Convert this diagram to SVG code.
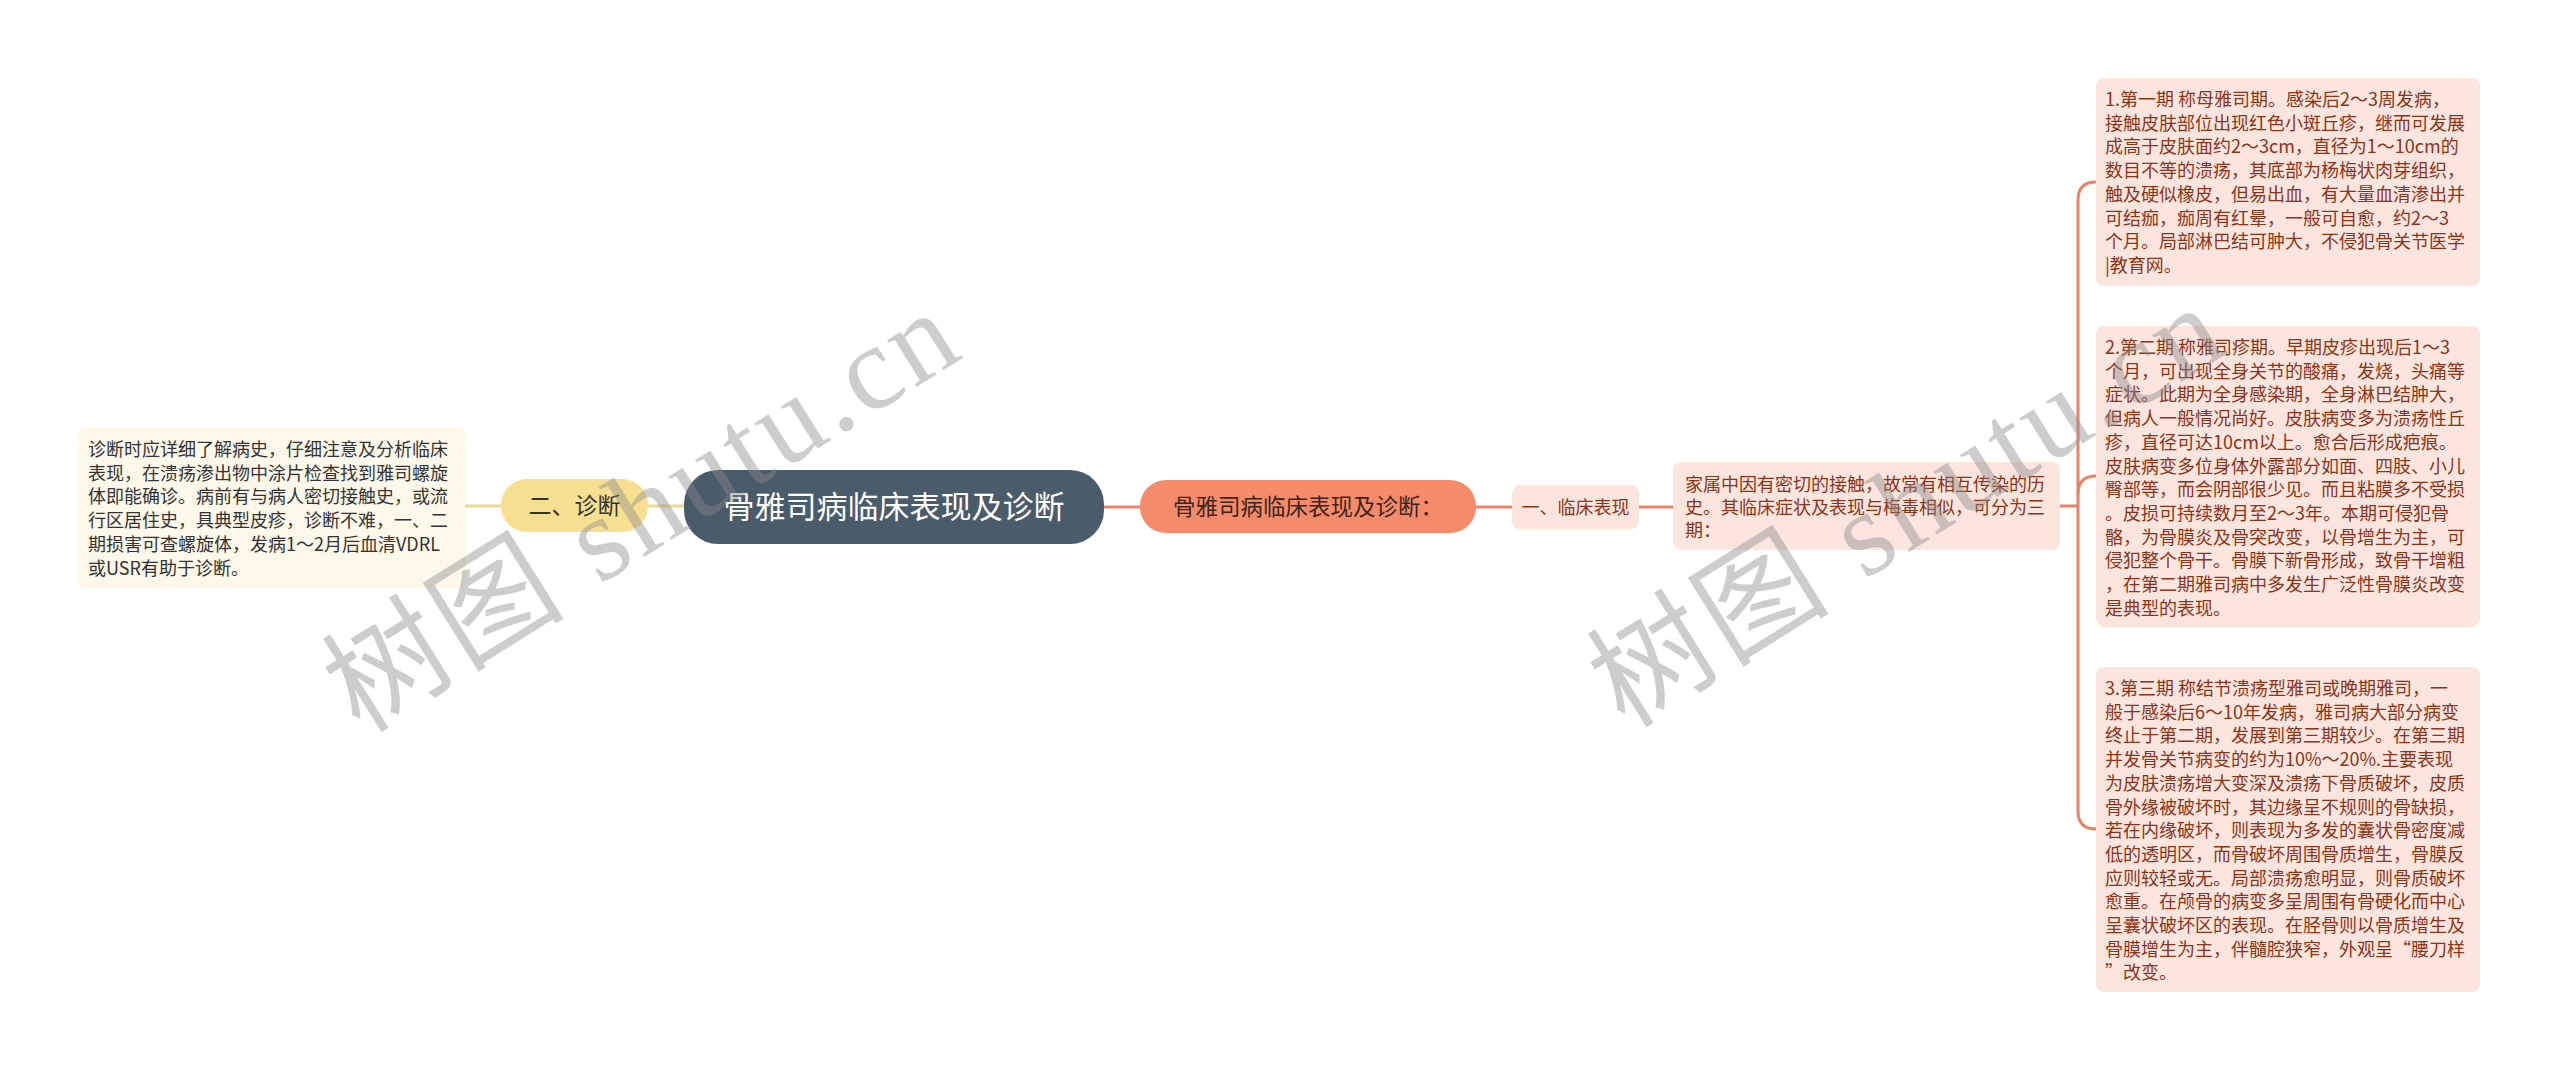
<svg xmlns="http://www.w3.org/2000/svg" width="2560" height="1073" viewBox="0 0 2560 1073">
<style>
.t{font-family:"Noto Sans CJK SC","Noto Sans",sans-serif;}
.body{font-size:18px;fill:#8c3418;}
.lbody{font-size:18px;fill:#333333;}
.pink{fill:#fce5de;}
.wm{font-family:"Liberation Serif","Noto Sans CJK SC",serif;font-size:120px;fill:#8a8a8a;opacity:0.42;letter-spacing:4px;}
</style>
<rect width="2560" height="1073" fill="#ffffff"/>
<g id="connectors" fill="none" stroke-width="3">
  <path d="M465,506 H501" stroke="#efd88f"/>
  <path d="M648,506 H684" stroke="#efd88f"/>
  <path d="M1104,507 H1140" stroke="#e8836a"/>
  <path d="M1476,507 H1512" stroke="#e8836a"/>
  <path d="M1639,507 H1673" stroke="#e8836a"/>
  <path d="M2060,506 H2078" stroke="#e8836a"/>
  <path d="M2096,182 Q2078,182 2078,200 V811 Q2078,829 2096,829" stroke="#e8836a"/>
  <path d="M2078,494 Q2078,476 2096,476" stroke="#e8836a"/>
</g>
<g id="root">
  <rect x="684" y="470" width="420" height="74" rx="34" fill="#4a5b6b"/>
  <text class="t" x="894" y="518" font-size="31" fill="#ffffff" text-anchor="middle">骨雅司病临床表现及诊断</text>
</g>
<g id="diag">
  <rect x="501" y="479" width="147" height="53" rx="26" fill="#f6df91"/>
  <text class="t" x="574.5" y="514" font-size="23" fill="#333333" text-anchor="middle">二、诊断</text>
</g>
<g id="diag-text">
  <rect x="78" y="428" width="387" height="160" rx="8" fill="#fef8ea"/>
  <text class="t lbody" x="88" y="456">
    <tspan x="88">诊断时应详细了解病史，仔细注意及分析临床</tspan>
    <tspan x="88" dy="23.7">表现，在溃疡渗出物中涂片检查找到雅司螺旋</tspan>
    <tspan x="88" dy="23.7">体即能确诊。病前有与病人密切接触史，或流</tspan>
    <tspan x="88" dy="23.7">行区居住史，具典型皮疹，诊断不难，一、二</tspan>
    <tspan x="88" dy="23.7">期损害可查螺旋体，发病1～2月后血清VDRL</tspan>
    <tspan x="88" dy="23.7">或USR有助于诊断。</tspan>
  </text>
</g>
<g id="sub">
  <rect x="1140" y="480" width="336" height="53" rx="26" fill="#f68b6b"/>
  <text class="t" x="1308" y="514.5" font-size="22.5" fill="#3d2418" text-anchor="middle">骨雅司病临床表现及诊断：</text>
</g>
<g id="clin">
  <rect x="1512" y="485" width="127" height="44" rx="8" class="pink"/>
  <text class="t" x="1575.5" y="513.5" font-size="18" fill="#8c3418" text-anchor="middle">一、临床表现</text>
</g>
<g id="family">
  <rect x="1673" y="462" width="387" height="88" rx="8" class="pink"/>
  <text class="t body" x="1685" y="491">
    <tspan x="1685">家属中因有密切的接触，故常有相互传染的历</tspan>
    <tspan x="1685" dy="23.2">史。其临床症状及表现与梅毒相似，可分为三</tspan>
    <tspan x="1685" dy="23.2">期：</tspan>
  </text>
</g>
<g id="stage1">
  <rect x="2096" y="78" width="384" height="208" rx="8" class="pink"/>
  <text class="t body" x="2105" y="106">
    <tspan x="2105">1.第一期 称母雅司期。感染后2～3周发病，</tspan>
    <tspan x="2105" dy="23.7">接触皮肤部位出现红色小斑丘疹，继而可发展</tspan>
    <tspan x="2105" dy="23.7">成高于皮肤面约2～3cm，直径为1～10cm的</tspan>
    <tspan x="2105" dy="23.7">数目不等的溃疡，其底部为杨梅状肉芽组织，</tspan>
    <tspan x="2105" dy="23.7">触及硬似橡皮，但易出血，有大量血清渗出并</tspan>
    <tspan x="2105" dy="23.7">可结痂，痂周有红晕，一般可自愈，约2～3</tspan>
    <tspan x="2105" dy="23.7">个月。局部淋巴结可肿大，不侵犯骨关节医学</tspan>
    <tspan x="2105" dy="23.7">|教育网。</tspan>
  </text>
</g>
<g id="stage2">
  <rect x="2096" y="326" width="384" height="301" rx="8" class="pink"/>
  <text class="t body" x="2105" y="354">
    <tspan x="2105">2.第二期 称雅司疹期。早期皮疹出现后1～3</tspan>
    <tspan x="2105" dy="23.7">个月，可出现全身关节的酸痛，发烧，头痛等</tspan>
    <tspan x="2105" dy="23.7">症状。此期为全身感染期，全身淋巴结肿大，</tspan>
    <tspan x="2105" dy="23.7">但病人一般情况尚好。皮肤病变多为溃疡性丘</tspan>
    <tspan x="2105" dy="23.7">疹，直径可达10cm以上。愈合后形成疤痕。</tspan>
    <tspan x="2105" dy="23.7">皮肤病变多位身体外露部分如面、四肢、小儿</tspan>
    <tspan x="2105" dy="23.7">臀部等，而会阴部很少见。而且粘膜多不受损</tspan>
    <tspan x="2105" dy="23.7">。皮损可持续数月至2～3年。本期可侵犯骨</tspan>
    <tspan x="2105" dy="23.7">骼，为骨膜炎及骨突改变，以骨增生为主，可</tspan>
    <tspan x="2105" dy="23.7">侵犯整个骨干。骨膜下新骨形成，致骨干增粗</tspan>
    <tspan x="2105" dy="23.7">，在第二期雅司病中多发生广泛性骨膜炎改变</tspan>
    <tspan x="2105" dy="23.7">是典型的表现。</tspan>
  </text>
</g>
<g id="stage3">
  <rect x="2096" y="667" width="384" height="325" rx="8" class="pink"/>
  <text class="t body" x="2105" y="695">
    <tspan x="2105">3.第三期 称结节溃疡型雅司或晚期雅司，一</tspan>
    <tspan x="2105" dy="23.7">般于感染后6～10年发病，雅司病大部分病变</tspan>
    <tspan x="2105" dy="23.7">终止于第二期，发展到第三期较少。在第三期</tspan>
    <tspan x="2105" dy="23.7">并发骨关节病变的约为10%～20%.主要表现</tspan>
    <tspan x="2105" dy="23.7">为皮肤溃疡增大变深及溃疡下骨质破坏，皮质</tspan>
    <tspan x="2105" dy="23.7">骨外缘被破坏时，其边缘呈不规则的骨缺损，</tspan>
    <tspan x="2105" dy="23.7">若在内缘破坏，则表现为多发的囊状骨密度减</tspan>
    <tspan x="2105" dy="23.7">低的透明区，而骨破坏周围骨质增生，骨膜反</tspan>
    <tspan x="2105" dy="23.7">应则较轻或无。局部溃疡愈明显，则骨质破坏</tspan>
    <tspan x="2105" dy="23.7">愈重。在颅骨的病变多呈周围有骨硬化而中心</tspan>
    <tspan x="2105" dy="23.7">呈囊状破坏区的表现。在胫骨则以骨质增生及</tspan>
    <tspan x="2105" dy="23.7">骨膜增生为主，伴髓腔狭窄，外观呈“腰刀样</tspan>
    <tspan x="2105" dy="23.7">”改变。</tspan>
  </text>
</g>
<g id="watermarks">
  <text class="wm" x="645" y="550" text-anchor="middle" transform="rotate(-32 645 514)">树图 shutu.cn</text>
  <text class="wm" x="1910" y="545" text-anchor="middle" transform="rotate(-32 1910 509)">树图 shutu.cn</text>
</g>
</svg>
